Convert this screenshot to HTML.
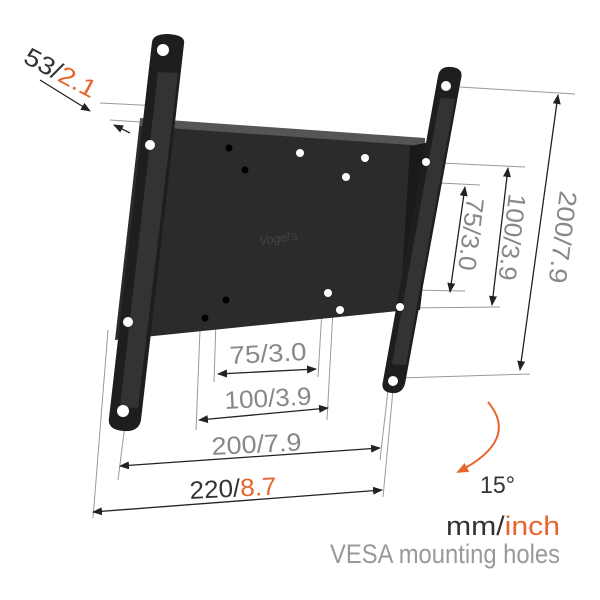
<!DOCTYPE html>
<html><head><style>
html,body{margin:0;padding:0;background:#fff;width:600px;height:600px;overflow:hidden}
svg{display:block}
text{font-family:"Liberation Sans",sans-serif}
</style></head><body>
<svg width="600" height="600" viewBox="0 0 600 600" xmlns="http://www.w3.org/2000/svg">
<defs>
<marker id="a" markerWidth="10" markerHeight="8" refX="9" refY="4" orient="auto" markerUnits="userSpaceOnUse"><path d="M0,0 L10,4 L0,8 Z" fill="#222"/></marker>
<marker id="b" markerWidth="10" markerHeight="8" refX="1" refY="4" orient="auto" markerUnits="userSpaceOnUse"><path d="M10,0 L0,4 L10,8 Z" fill="#222"/></marker>
<marker id="o" markerWidth="12" markerHeight="10" refX="10" refY="5" orient="auto" markerUnits="userSpaceOnUse"><path d="M0,0 L12,5 L0,10 Z" fill="#e8652e"/></marker>
</defs>
<g stroke="#999" stroke-width="1" fill="none">
<line x1="110" y1="120" x2="140" y2="122"/>
<line x1="100" y1="103" x2="160" y2="106"/>
<line x1="460" y1="87" x2="575" y2="94"/>
<line x1="440" y1="163" x2="525" y2="167"/>
<line x1="440" y1="183" x2="480" y2="185"/>
<line x1="410" y1="290" x2="465" y2="291"/>
<line x1="405" y1="308" x2="500" y2="307"/>
<line x1="400" y1="378" x2="530" y2="374"/>
<line x1="108" y1="330" x2="93" y2="518"/>
<line x1="125" y1="425" x2="118" y2="480"/>
<line x1="393" y1="390" x2="383" y2="497"/>
<line x1="388" y1="390" x2="380" y2="460"/>
<line x1="216" y1="320" x2="214" y2="382"/>
<line x1="200" y1="330" x2="196" y2="430"/>
<line x1="322" y1="310" x2="318" y2="377"/>
<line x1="333" y1="310" x2="327" y2="420"/>
</g>
<polygon points="140,120 425,140 408,310 115,340" fill="#2b2b2b"/>
<polygon points="140,118 425,138 425,146 140,126" fill="#555"/>
<polygon points="410,146 440,140 420,310 400,312" fill="#1a1a1a"/>
<path d="M152,42 Q153,34 168,34 Q186,35 184,44 L141,420 Q139,432 124,431 Q107,430 109,418 Z" fill="#1e1e1e"/>
<path d="M158,72 L178,73 L138,408 L120,407 Z" fill="#333"/>
<path d="M438,76 Q440,66 451,67 Q464,68 461,79 L405,384 Q402,394 392,393 Q380,392 383,381 Z" fill="#1e1e1e"/>
<path d="M440,98 L455,99 L406,365 L392,364 Z" fill="#333"/>
<g fill="#fff">
<circle cx="163" cy="50" r="6"/><circle cx="150" cy="145" r="5"/><circle cx="128" cy="322" r="5"/><circle cx="123" cy="411" r="6"/>
<circle cx="446" cy="86" r="5"/><circle cx="426" cy="162" r="4"/><circle cx="400" cy="307" r="4"/><circle cx="393" cy="381" r="5"/>
<circle cx="300" cy="153" r="4"/><circle cx="365" cy="158" r="4"/><circle cx="346" cy="177" r="4"/>
<circle cx="328" cy="293" r="4"/><circle cx="340" cy="310" r="4"/>
</g>
<g fill="#000"><circle cx="229" cy="148" r="3.5"/><circle cx="245" cy="170" r="3.5"/><circle cx="226" cy="300" r="3.5"/><circle cx="205" cy="318" r="3.5"/></g>
<text x="260" y="245" font-size="12" fill="#444" font-style="italic" transform="rotate(-8 260 245)">Vogel's</text>
<text x="22" y="62" font-size="25" fill="#333" textLength="78" lengthAdjust="spacingAndGlyphs" transform="rotate(28 22 62)">53/<tspan fill="#e8652e">2.1</tspan></text>
<line x1="40" y1="80" x2="90" y2="111" stroke="#222" stroke-width="1.3" marker-end="url(#a)"/>
<line x1="130" y1="133" x2="114" y2="125" stroke="#222" stroke-width="1.3" marker-end="url(#a)"/>
<g stroke="#222" stroke-width="1.3" marker-start="url(#b)" marker-end="url(#a)">
<line x1="218" y1="374" x2="316" y2="369"/>
<line x1="199" y1="420" x2="328" y2="408"/>
<line x1="120" y1="466" x2="380" y2="448"/>
<line x1="93" y1="512" x2="382" y2="490"/>
</g>
<g font-size="25" fill="#888" lengthAdjust="spacingAndGlyphs">
<text x="230" y="364" textLength="77" lengthAdjust="spacingAndGlyphs" transform="rotate(-3 230 364)">75/3.0</text>
<text x="225" y="409" textLength="87" lengthAdjust="spacingAndGlyphs" transform="rotate(-3 225 409)">100/3.9</text>
<text x="212" y="455" textLength="90" lengthAdjust="spacingAndGlyphs" transform="rotate(-3 212 455)">200/7.9</text>
<text x="190" y="499" fill="#333" textLength="87" lengthAdjust="spacingAndGlyphs" transform="rotate(-3 190 499)">220/<tspan fill="#e8652e">8.7</tspan></text>
</g>
<g stroke="#222" stroke-width="1.3" marker-start="url(#b)" marker-end="url(#a)">
<line x1="465" y1="187" x2="450" y2="292"/>
<line x1="508" y1="168" x2="492" y2="305"/>
<line x1="558" y1="95" x2="520" y2="370"/>
</g>
<g font-size="25" fill="#888">
<text x="467" y="197" textLength="73" lengthAdjust="spacingAndGlyphs" transform="rotate(97 467 197)">75/3.0</text>
<text x="509" y="193" textLength="87" lengthAdjust="spacingAndGlyphs" transform="rotate(97 509 193)">100/3.9</text>
<text x="560" y="190" textLength="93" lengthAdjust="spacingAndGlyphs" transform="rotate(97 560 190)">200/7.9</text>
</g>
<path d="M488,402 Q520,440 458,472" stroke="#e8652e" stroke-width="2" fill="none" marker-end="url(#o)"/>
<text x="480" y="493" font-size="24" fill="#333" textLength="35" lengthAdjust="spacingAndGlyphs">15°</text>
<text x="446" y="535" font-size="27" fill="#333" textLength="114" lengthAdjust="spacingAndGlyphs">mm/<tspan fill="#e8652e">inch</tspan></text>
<text x="330" y="563" font-size="27" fill="#999" textLength="230" lengthAdjust="spacingAndGlyphs">VESA mounting holes</text>
</svg>
</body></html>
